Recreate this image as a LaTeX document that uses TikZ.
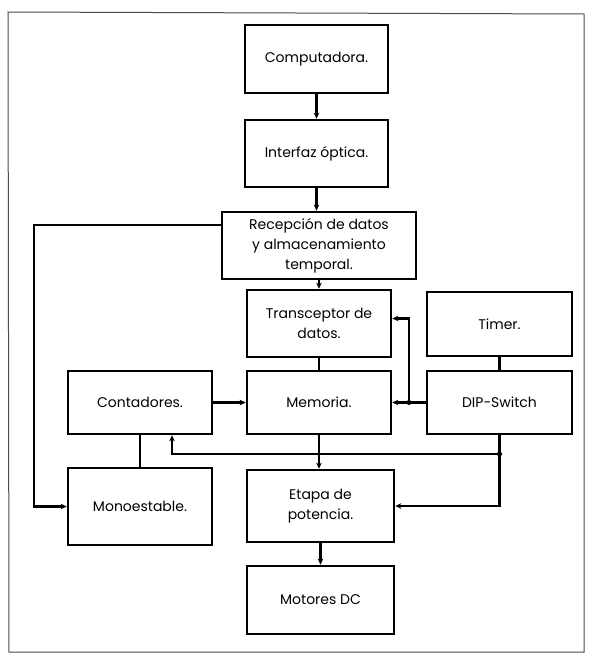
\documentclass[tikz,border=0pt]{standalone}
\usepackage{fontspec}
\setmainfont{Poppins}
\usetikzlibrary{arrows.meta,calc}
\begin{document}
\begin{tikzpicture}[x=1pt,y=-1pt,
  blk/.style={draw, line width=2.6pt, align=center, inner sep=2pt,
    font=\fontsize{14}{20}\selectfont},
  link/.style={line width=2.2pt},
  arr/.style={line width=2.2pt, -{Stealth[length=6pt,width=5.5pt]}},
  dot/.style={fill, circle, inner sep=0pt, minimum size=5pt}]
\useasboundingbox (0,0) rectangle (592,656);
\fill[white] (0,0) rectangle (592,656);
% outer frame
\draw[line width=1pt, black!70] (8,12) -- (584,14) -- (584,652) -- (9,652) -- cycle;

% blocks
\node[blk, minimum width=143pt, minimum height=68pt] (comp)  at (316.5,59)   {Computadora.};
\node[blk, minimum width=143pt, minimum height=67pt] (intf)  at (316.5,153.5) {Interfaz óptica.};
\node[blk, minimum width=194pt, minimum height=67pt] (recep) at (319,245.5)  {Recepción de datos\\y almacenamiento\\temporal.};
\node[blk, minimum width=144pt, minimum height=67pt] (trans) at (319,323.5)  {Transceptor de\\datos.};
\node[blk, minimum width=145pt, minimum height=64pt] (timer) at (499.5,324)  {Timer.};
\node[blk, minimum width=144pt, minimum height=63pt] (cont)  at (140,402.5)  {Contadores.};
\node[blk, minimum width=144pt, minimum height=63pt] (mem)   at (319,402.5)  {Memoria.};
\node[blk, minimum width=145pt, minimum height=63pt] (dip)   at (499.5,402.5) {DIP-Switch};
\node[blk, minimum width=144pt, minimum height=77pt] (mono)  at (140,506.5)  {Monoestable.};
\node[blk, minimum width=147pt, minimum height=72pt] (etapa) at (320.5,506)  {Etapa de\\potencia.};
\node[blk, minimum width=147pt, minimum height=68pt] (motor) at (320.5,600)  {Motores DC};

% junction points
\coordinate (j1) at ($(mem.east)!0.5!(dip.west)$);
\coordinate (j2) at (dip.south |- 0,454);
\coordinate (lft) at (34,225);

% main chain
\draw[arr] (comp.south) -- (comp.south |- intf.north);
\draw[arr] (intf.south) -- (intf.south |- recep.north);
\draw[arr] (recep.south) -- (trans.north);
\draw[link] (trans.south) -- (mem.north);
\draw[link] (timer.south) -- (dip.north);
\draw[arr] (cont.east) -- (mem.west);
\draw[arr] (dip.west) -- (mem.east);
\draw[arr] (j1) |- ([yshift=5pt]trans.east);
\draw[arr] (mem.south) -- (mem.south |- etapa.north);
\draw[arr] (etapa.south) -- (motor.north);

% feedback to the monostable
\draw[arr] (recep.west |- lft) -- (lft) |- (mono.west);
\draw[link] (cont.south) -- (mono.north);

% lower bus from the DIP-Switch
\draw[arr] (dip.south) -- (j2) |- (etapa.east);
\draw[arr] (j2) -| ([xshift=32pt]cont.south);

\node[dot] (d1) at (j1) {};
\node[dot] (d2) at (j2) {};
\end{tikzpicture}
\end{document}
